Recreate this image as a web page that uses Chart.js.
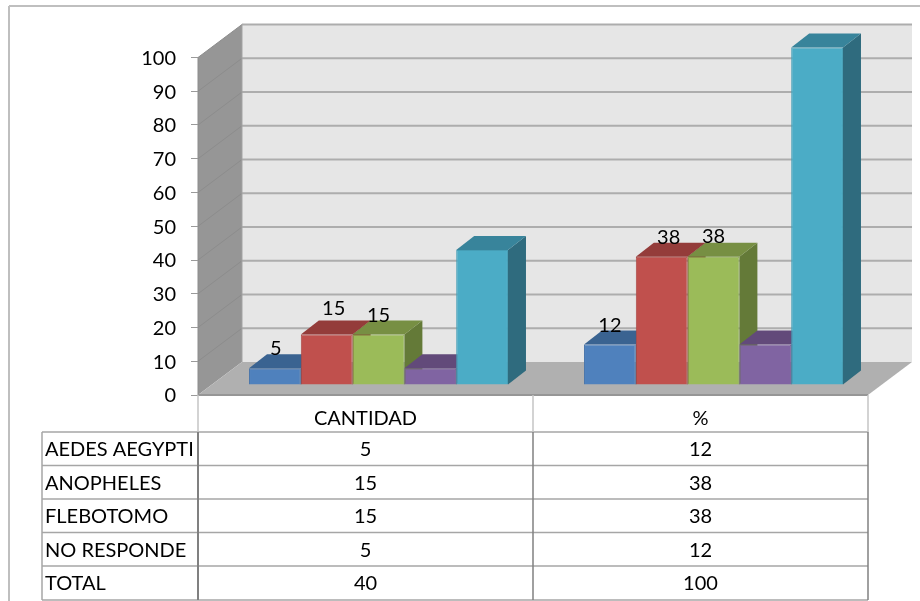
<!DOCTYPE html>
<html>
<head>
<meta charset="utf-8">
<title>Vectores</title>
<script src="https://cdn.jsdelivr.net/npm/chart.js@4/dist/chart.umd.js"></script>
<style>
  html, body { margin: 0; padding: 0; background: #fff; }
  canvas { display: block; }
</style>
</head>
<body>
<canvas id="chart" width="920" height="601"></canvas>
<script>
const categories = ['CANTIDAD', '%'];
const seriesNames = ['AEDES AEGYPTI', 'ANOPHELES', 'FLEBOTOMO', 'NO RESPONDE', 'TOTAL'];
const aedes = [5, 12];
const anopheles = [15, 38];
const flebotomo = [15, 38];
const noResponde = [5, 12];
const total = [40, 100];
const seriesValues = [aedes, anopheles, flebotomo, noResponde, total];

const frontColors = ['#4f81bd', '#c0504d', '#9bbb59', '#8064a2', '#4bacc6'];
const edgeColors = ['#4a76ab', '#ad4a47', '#8eac52', '#755c94', '#459eb6'];
const topColors = ['#3a6391', '#943c3a', '#778f43', '#624a7a', '#38849b'];
const sideColors = ['#2f5178', '#7d3230', '#647a38', '#533f69', '#2f6b7e'];

// only the first three series carry a value label, nudged by hand off the bar top
const labelNudge = [
    [[1, -20], [0, -19]],
    [[7, -26], [7, -19]],
    [[0, -19], [0, -20]],
    null,
    null,
];

const FONT = '20px Lato';
const wall = { dx: 44, dy: 33 };      // depth of the whole floor
const barShift = { dx: 13, dy: 10 };  // bars stand part way back on the floor
const barDepth = { dx: 18, dy: 14 };

const tableRows = [395, 432, 465.5, 499, 532.5, 566, 600];
const tableLeft = 42;

function poly(ctx, pts, fill) {
    ctx.beginPath();
    pts.forEach((p, i) => i ? ctx.lineTo(p[0], p[1]) : ctx.moveTo(p[0], p[1]));
    ctx.closePath();
    ctx.fillStyle = fill;
    ctx.fill();
}

function hline(ctx, x1, x2, y, color, width) {
    ctx.strokeStyle = color;
    ctx.lineWidth = width;
    ctx.beginPath();
    ctx.moveTo(x1, y);
    ctx.lineTo(x2, y);
    ctx.stroke();
}

function vline(ctx, x, y1, y2, color, width) {
    ctx.strokeStyle = color;
    ctx.lineWidth = width;
    ctx.beginPath();
    ctx.moveTo(x, y1);
    ctx.lineTo(x, y2);
    ctx.stroke();
}

// outer frame, side wall, back wall, floor and the gridlines on them
const wallsPlugin = {
    id: 'walls',
    beforeDraw(chart) {
        const { ctx, chartArea: a, scales: { y } } = chart;
        const top = y.getPixelForValue(100);
        const bottom = y.getPixelForValue(0);
        ctx.save();
        hline(ctx, 9, 920, 6, '#bfbfbf', 2);
        vline(ctx, 9, 6, 601, '#bfbfbf', 2);

        poly(ctx, [[a.left + wall.dx, top - wall.dy], [a.right + wall.dx, top - wall.dy],
            [a.right + wall.dx, bottom - wall.dy], [a.left + wall.dx, bottom - wall.dy]], '#e6e6e6');
        poly(ctx, [[a.left, top], [a.left + wall.dx, top - wall.dy],
            [a.left + wall.dx, bottom - wall.dy], [a.left, bottom]], '#969696');
        poly(ctx, [[a.left, bottom], [a.left + wall.dx, bottom - wall.dy],
            [a.right + wall.dx, bottom - wall.dy], [a.right, bottom]], '#b0b0b0');

        y.ticks.forEach((t) => {
            const py = y.getPixelForValue(t.value);
            if (t.value > 0) {
                ctx.strokeStyle = '#8c8c8c';
                ctx.lineWidth = 1;
                ctx.beginPath();
                ctx.moveTo(a.left, py);
                ctx.lineTo(a.left + wall.dx, py - wall.dy);
                ctx.stroke();
                hline(ctx, a.left + wall.dx, a.right + wall.dx, py - wall.dy, '#adadad', 2);
            }
        });
        vline(ctx, a.left + wall.dx, top - wall.dy, bottom - wall.dy, '#a3a3a3', 1);
        vline(ctx, a.left, top, bottom, '#8c8c8c', 1);
        hline(ctx, a.left, a.right, bottom, '#969696', 2);
        ctx.restore();
    },
};

// extrudes each bar, then lets the element paint its own front face
const barsPlugin = {
    id: 'bars3d',
    beforeDatasetsDraw(chart) {
        const ctx = chart.ctx;
        ctx.save();
        ctx.translate(barShift.dx, -barShift.dy);
        chart.data.datasets.forEach((ds, i) => {
            chart.getDatasetMeta(i).data.forEach((bar) => {
                const l = bar.x - bar.width / 2;
                const r = bar.x + bar.width / 2;
                const t = bar.y;
                const b = bar.base;
                poly(ctx, [[r, t], [r + barDepth.dx, t - barDepth.dy], [r + barDepth.dx, b - barDepth.dy], [r, b]], sideColors[i]);
                poly(ctx, [[l, t], [l + barDepth.dx, t - barDepth.dy], [r + barDepth.dx, t - barDepth.dy], [r, t]], topColors[i]);
                bar.draw(ctx);
            });
        });
        ctx.restore();

        ctx.save();
        ctx.font = FONT;
        ctx.fillStyle = '#000';
        ctx.textAlign = 'center';
        ctx.textBaseline = 'middle';
        chart.data.datasets.forEach((ds, i) => {
            if (!labelNudge[i]) return;
            chart.getDatasetMeta(i).data.forEach((bar, j) => {
                ctx.fillText(String(ds.data[j]),
                    bar.x + barShift.dx + labelNudge[i][j][0],
                    bar.y - barShift.dy + labelNudge[i][j][1]);
            });
        });
        ctx.restore();
        return false;
    },
};

// data table under the category axis
const tablePlugin = {
    id: 'dataTable',
    afterDraw(chart) {
        const { ctx, scales: { x } } = chart;
        const left = chart.chartArea.left;
        const mid = (left + chart.chartArea.right) / 2;
        const right = chart.chartArea.right;
        const last = tableRows[tableRows.length - 1];
        ctx.save();
        tableRows.slice(1).forEach((y) => hline(ctx, tableLeft, right, y, '#a6a6a6', 1.5));
        vline(ctx, tableLeft, tableRows[1], last, '#a6a6a6', 1.5);
        vline(ctx, left, tableRows[0], tableRows[1], '#c4c4c4', 1.5);
        vline(ctx, mid, tableRows[0], tableRows[1], '#c4c4c4', 1.5);
        vline(ctx, right, tableRows[0], tableRows[1], '#c4c4c4', 1.5);
        vline(ctx, left, tableRows[1], last, '#808080', 2);
        vline(ctx, mid, tableRows[1], last, '#808080', 1.5);
        vline(ctx, right, tableRows[1], last, '#808080', 1.5);

        ctx.font = FONT;
        ctx.fillStyle = '#000';
        ctx.textBaseline = 'middle';
        seriesNames.forEach((name, i) => {
            const cy = (tableRows[i + 1] + tableRows[i + 2]) / 2 + 1;
            ctx.textAlign = 'left';
            ctx.fillText(name, tableLeft + 3, cy);
            ctx.textAlign = 'center';
            categories.forEach((c, j) => {
                ctx.fillText(String(seriesValues[i][j]), x.getPixelForTick(j), cy);
            });
        });
        ctx.restore();
    },
};

new Chart(document.getElementById('chart').getContext('2d'), {
    type: 'bar',
    data: {
        labels: categories,
        datasets: seriesNames.map((name, i) => ({
            label: name,
            data: seriesValues[i],
            backgroundColor: frontColors[i],
            borderColor: edgeColors[i],
            borderWidth: 1,
            categoryPercentage: 0.773,
            barPercentage: 1,
        })),
    },
    options: {
        responsive: false,
        animation: false,
        layout: { padding: { top: 57.5, right: 52, left: 0, bottom: 0 } },
        plugins: { legend: { display: false }, tooltip: { enabled: false } },
        scales: {
            x: {
                grid: { display: false },
                border: { display: false },
                ticks: { color: '#000', font: { family: 'Lato', size: 20 }, padding: 4, maxRotation: 0 },
                afterFit: (scale) => { scale.height = 206; },
            },
            y: {
                min: 0,
                max: 100,
                grid: { drawOnChartArea: false, drawTicks: true, tickLength: 7, color: '#9a9a9a' },
                border: { display: false },
                ticks: { stepSize: 10, color: '#000', font: { family: 'Lato', size: 20 }, padding: 15, labelOffset: 1 },
                afterFit: (scale) => { scale.width = 198; },
            },
        },
    },
    plugins: [wallsPlugin, barsPlugin, tablePlugin],
});
</script>
</body>
</html>
